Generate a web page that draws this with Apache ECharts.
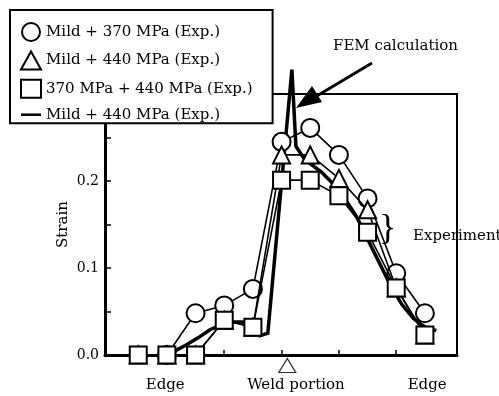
<!DOCTYPE html>
<html>
<head>
<meta charset="utf-8">
<script src="https://cdn.jsdelivr.net/npm/echarts@6/dist/echarts.min.js"></script>
<style>
  html, body { margin: 0; padding: 0; background: #fff; }
  #chart { width: 499px; height: 396px; }
</style>
</head>
<body>
<div id="chart"></div>
<script>
// measuring positions along the plate (arbitrary units, weld at 0)
var positions = [-25, -20, -15, -10, -5, 0, 5, 10, 15, 20, 25];
var mild370 = [null, 0, 0.048, 0.057, 0.076, 0.245, 0.261, 0.23, 0.18, 0.094, 0.048];
var mild440 = [0, 0, 0, 0.04, 0.032, 0.23, 0.23, 0.203, 0.167, 0.077, 0.023];
var mpa370440 = [0, 0, 0, 0.04, 0.032, 0.201, 0.201, 0.183, 0.141, 0.077, 0.023];
// FEM curve
var femX = [-20.7, -18.5, -16.8, -14.5, -12.5, -10.5, -8.5, -6.8, -5.5, -4.5, -3.8, -2.4, 1.8, 2.5, 4, 7, 10, 13, 16, 19, 21, 23, 25, 27];
var femY = [0, 0.005, 0.011, 0.02, 0.029, 0.035, 0.038, 0.038, 0.035, 0.027, 0.022, 0.025, 0.328, 0.24, 0.225, 0.21, 0.19, 0.16, 0.12, 0.08, 0.058, 0.042, 0.032, 0.028];
var xTickValues = [-10, 0, 10, 20];
var xLabelValues = [-20.3, 2.5, 25.4];
var xLabelNames = ['Edge', 'Weld portion', 'Edge'];
var yTickLabels = ['0.0', '0.1', '0.2'];

var serif = '"DejaVu Serif", "Liberation Serif", serif';

function pairs(xs, ys) {
    var out = [];
    for (var i = 0; i < xs.length; i++) {
        if (ys[i] !== null) out.push([xs[i], ys[i]]);
    }
    return out;
}

var hollow = { color: '#fff', borderColor: '#000', borderWidth: 2 };

var option = {
    animation: false,
    backgroundColor: '#fff',
    textStyle: { fontFamily: serif, color: '#000' },
    grid: {
        left: 105, right: 42, top: 94, bottom: 41,
        show: true, borderColor: '#000', borderWidth: 2, backgroundColor: 'transparent'
    },
    legend: {
        orient: 'vertical',
        left: 10, top: 10,
        padding: [12, 20, 1, 10],
        itemGap: 8.4,
        itemWidth: 20, itemHeight: 18,
        backgroundColor: '#fff',
        borderColor: '#000', borderWidth: 2,
        textStyle: { fontFamily: serif, fontSize: 15, color: '#000' },
        selectedMode: false,
        data: [
            { name: 'Mild + 370 MPa (Exp.)', icon: 'circle', itemStyle: hollow },
            { name: 'Mild + 440 MPa (Exp.)', icon: 'triangle', itemStyle: hollow },
            { name: '370 MPa + 440 MPa (Exp.)', icon: 'rect', itemStyle: hollow },
            { name: 'Mild + 440 MPa (Exp.) ', icon: 'path://M0,7 L20,7 L20,9.5 L0,9.5 Z', itemStyle: { color: '#000', borderWidth: 0 } }
        ]
    },
    xAxis: {
        type: 'value',
        min: -30.8, max: 30.6,
        splitLine: { show: false },
        axisLine: { onZero: false, lineStyle: { color: '#000', width: 3 } },
        axisTick: { inside: true, length: 5, customValues: xTickValues, lineStyle: { color: '#000', width: 1.5 } },
        axisLabel: {
            customValues: xLabelValues,
            margin: 23,
            fontFamily: serif, fontSize: 15, color: '#000',
            formatter: function (v) {
                var best = 0;
                for (var i = 1; i < xLabelValues.length; i++) {
                    if (Math.abs(xLabelValues[i] - v) < Math.abs(xLabelValues[best] - v)) best = i;
                }
                return xLabelNames[best];
            }
        }
    },
    yAxis: {
        type: 'value',
        min: 0, max: 0.3, interval: 0.05,
        name: 'Strain',
        nameLocation: 'middle',
        nameGap: 34,
        nameMoveOverlap: false,
        nameRotate: 90,
        nameTextStyle: { fontFamily: serif, fontSize: 15, color: '#000' },
        splitLine: { show: false },
        axisLine: { onZero: false, lineStyle: { color: '#000', width: 3 } },
        axisTick: { inside: true, length: 6, lineStyle: { color: '#000', width: 1.5 } },
        axisLabel: {
            margin: 6,
            fontFamily: serif, fontSize: 14, color: '#000',
            formatter: function (v) {
                var k = Math.round(v * 20);
                if (k % 2 === 0 && k / 2 < yTickLabels.length) return yTickLabels[k / 2];
                return '';
            }
        }
    },
    series: [
        {
            name: 'Mild + 440 MPa (Exp.) ',
            type: 'line',
            data: pairs(femX, femY),
            showSymbol: false,
            symbol: 'none',
            clip: false,
            lineStyle: { color: '#000', width: 3.5, join: 'miter' },
            z: 2
        },
        {
            name: 'Mild + 370 MPa (Exp.)',
            type: 'line',
            data: pairs(positions, mild370),
            symbol: 'circle', symbolSize: 18,
            itemStyle: hollow,
            lineStyle: { color: '#000', width: 1.6 },
            z: 3
        },
        {
            name: 'Mild + 440 MPa (Exp.)',
            type: 'line',
            data: pairs(positions, mild440),
            symbol: 'triangle', symbolSize: 17,
            itemStyle: hollow,
            lineStyle: { color: '#000', width: 1.6 },
            z: 4
        },
        {
            name: '370 MPa + 440 MPa (Exp.)',
            type: 'line',
            data: pairs(positions, mpa370440),
            symbol: 'rect', symbolSize: 17,
            itemStyle: hollow,
            lineStyle: { color: '#000', width: 1.6 },
            z: 5
        },
        {
            // weld position marker under the axis
            name: 'weld',
            type: 'scatter',
            data: [[1, -0.012]],
            symbol: 'triangle', symbolSize: [17, 14],
            clip: false, silent: true,
            itemStyle: { color: '#fff', borderColor: '#000', borderWidth: 1.2 },
            z: 6
        }
    ],
    graphic: [
        { type: 'text', left: 333, top: 39, style: { text: 'FEM calculation', fontFamily: serif, fontSize: 15, fill: '#000' }, z: 100 },
        { type: 'line', shape: { x1: 372, y1: 63, x2: 310, y2: 100 }, style: { stroke: '#000', lineWidth: 3 }, z: 100 },
        { type: 'polygon', shape: { points: [[296, 108], [322, 102], [312, 86]] }, style: { fill: '#000' }, z: 100 },
        { type: 'text', left: 413, top: 229, style: { text: 'Experiment', fontFamily: serif, fontSize: 15, fill: '#000' }, z: 100 },
        { type: 'text', left: 379, top: 212, style: { text: '}', fontFamily: '"Liberation Serif", serif', fontSize: 36, fill: '#000' }, z: 100 }
    ]
};

var myChart = echarts.init(document.getElementById('chart'));
myChart.setOption(option);
</script>
</body>
</html>
